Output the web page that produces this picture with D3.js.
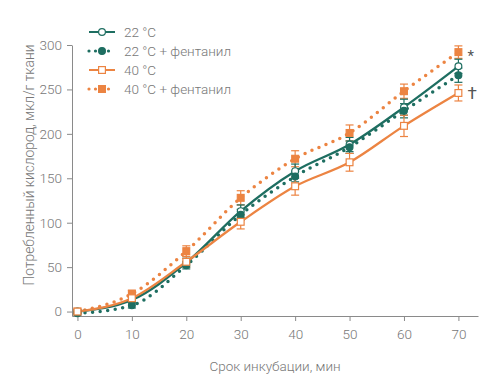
<!DOCTYPE html>
<html><head><meta charset="utf-8">
<script src="https://cdn.jsdelivr.net/npm/d3@7"></script>
<style>body{margin:0;background:#fff}</style>
</head><body><svg id="c" width="500" height="380"></svg>
<script>
const times = [0, 10, 20, 30, 40, 50, 60, 70];
const seriesNames = ["22 °C", "22 °C + фентанил", "40 °C", "40 °C + фентанил"];
const v22 = [0, 13, 55, 113, 158, 188, 230, 276];
const v22f = [-2, 7, 52, 109, 152, 185, 226, 266];
const v40 = [0, 15, 56, 101, 141, 168, 209, 246];
const v40f = [0, 20, 68, 128, 172, 201, 248, 292];
const e22 = [2, 3, 5, 7, 8, 8, 9, 8];
const e22f = [2, 3, 4, 6, 6, 7, 8, 8];
const e40 = [2, 4, 6, 8, 10, 10, 12, 9];
const e40f = [2, 4, 6, 8, 9, 9, 8, 7];
const yTicks = [0, 50, 100, 150, 200, 250, 300];
const xTicks = [0, 10, 20, 30, 40, 50, 60, 70];
const xTitle = "Срок инкубации, мин";
const yTitle = "Потребленный кислород, мкл/г ткани";

const TEAL = "#1e6e61", ORANGE = "#ec8442", GREY = "#777777";
const series = [
  {name: seriesNames[3], v: v40f, e: e40f, color: ORANGE, dotted: true, shape: "square", filled: true},
  {name: seriesNames[0], v: v22, e: e22, color: TEAL, dotted: false, shape: "circle", filled: false},
  {name: seriesNames[1], v: v22f, e: e22f, color: TEAL, dotted: true, shape: "circle", filled: true},
  {name: seriesNames[2], v: v40, e: e40, color: ORANGE, dotted: false, shape: "square", filled: false},
];
const legendOrder = [1, 2, 3, 0];

const svg = d3.select("#c");
const font = "Roboto, 'Liberation Sans', sans-serif";
const x = d3.scaleLinear().domain([-1, 73.6]).range([72, 478]);
const y = d3.scaleLinear().domain([-5, 300]).range([316, 45]);

const xa = svg.append("g").attr("transform", "translate(0,316)")
  .call(d3.axisBottom(x).tickValues(xTicks).tickSize(5).tickPadding(8).tickSizeOuter(0));
const ya = svg.append("g").attr("transform", "translate(72,0)")
  .call(d3.axisLeft(y).tickValues(yTicks).tickSize(5).tickPadding(5).tickSizeOuter(0));
[xa, ya].forEach(a => {
  a.selectAll("path,line").attr("stroke", "#8a8a8a").attr("stroke-width", 1);
  a.selectAll("text").attr("fill", GREY).attr("font-family", font).attr("font-weight", 300).attr("font-size", 13.5);
});

svg.append("text").attr("x", 275).attr("y", 371).attr("text-anchor", "middle")
  .attr("fill", GREY).attr("font-family", font).attr("font-weight", 300).attr("font-size", 13.5).text(xTitle);
svg.append("text").attr("transform", "translate(34,165) rotate(-90)").attr("text-anchor", "middle")
  .attr("fill", GREY).attr("font-family", font).attr("font-weight", 300).attr("font-size", 13.8).text(yTitle);

const line = d3.line().x((d, i) => x(times[i])).y(d => y(d)).curve(d3.curveMonotoneX);

function drawMarker(g, cx, cy, s) {
  if (s.shape === "circle") {
    g.append("circle").attr("cx", cx).attr("cy", cy).attr("r", 3.4)
      .attr("fill", s.filled ? s.color : "#fff").attr("stroke", s.color).attr("stroke-width", 1.2);
  } else {
    const h = 3.4;
    g.append("rect").attr("x", cx - h).attr("y", cy - h).attr("width", 2 * h).attr("height", 2 * h)
      .attr("fill", s.filled ? s.color : "#fff").attr("stroke", s.color).attr("stroke-width", 1.2);
  }
}

const plot = svg.append("g");
series.forEach(s => {
  const g = plot.append("g");
  s.v.forEach((v, i) => {
    const cx = x(times[i]);
    const y1 = y(v + s.e[i]), y2 = y(v - s.e[i]);
    g.append("line").attr("x1", cx).attr("x2", cx).attr("y1", y1).attr("y2", y2).attr("stroke", s.color).attr("stroke-width", 1.2);
    [y1, y2].forEach(yy => g.append("line").attr("x1", cx - 4).attr("x2", cx + 4).attr("y1", yy).attr("y2", yy)
      .attr("stroke", s.color).attr("stroke-width", 1.2));
  });
});
series.forEach(s => {
  const p = plot.append("path").datum(s.v).attr("d", line).attr("fill", "none").attr("stroke", s.color);
  if (s.dotted) p.attr("stroke-width", 3.5).attr("stroke-linecap", "round").attr("stroke-dasharray", "0,7.6");
  else p.attr("stroke-width", 2.3);
});
series.forEach(s => {
  const g = plot.append("g");
  s.v.forEach((v, i) => drawMarker(g, x(times[i]), y(v), s));
});

svg.append("text").attr("x", x(70) + 9).attr("y", y(292) + 9).attr("fill", "#555")
  .attr("font-family", font).attr("font-size", 15).text("*");
svg.append("text").attr("x", x(70) + 9).attr("y", y(246) + 6).attr("fill", "#555")
  .attr("font-family", font).attr("font-size", 17).text("†");

const lg = svg.append("g");
legendOrder.forEach((k, j) => {
  const s = series[k];
  const yy = 32 + j * 19;
  const l = lg.append("line").attr("x1", 89).attr("x2", 115).attr("y1", yy).attr("y2", yy).attr("stroke", s.color);
  if (s.dotted) l.attr("stroke-width", 3.2).attr("stroke-linecap", "round").attr("stroke-dasharray", "0,6.5");
  else l.attr("stroke-width", 2);
  drawMarker(lg, 102, yy, s);
  lg.append("text").attr("x", 124).attr("y", yy).attr("dy", "0.35em").attr("fill", GREY)
    .attr("font-family", font).attr("font-weight", 300).attr("font-size", 13.5).text(s.name);
});
</script></body></html>
